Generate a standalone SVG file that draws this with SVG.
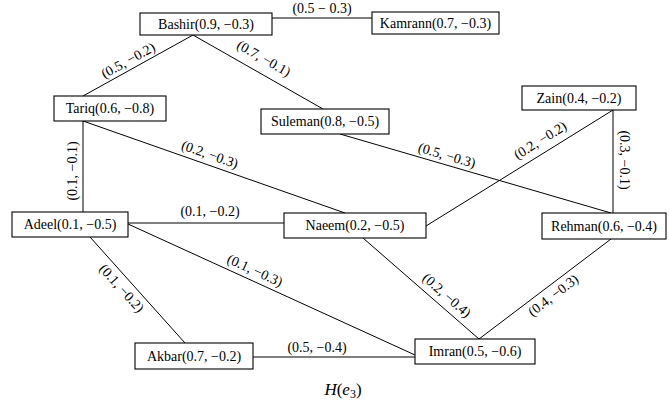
<svg xmlns="http://www.w3.org/2000/svg" width="669" height="402" viewBox="0 0 669 402">
<style>
.box{fill:#fff;stroke:#000;stroke-width:1.1}
.nt{font-family:"Liberation Serif","DejaVu Serif",serif;font-size:14px;fill:#000;text-anchor:middle}
.e{stroke:#000;stroke-width:1;fill:none}
.lb{font-family:"Liberation Serif","DejaVu Serif",serif;font-size:14px;fill:#000;text-anchor:middle}
.cap{font-family:"Liberation Serif","DejaVu Serif",serif;font-size:17px;fill:#000;text-anchor:middle}
</style>
<rect width="669" height="402" fill="#fff"/>
<g id="connectors">
<line class="e" x1="272" y1="18" x2="372" y2="18"/>
<line class="e" x1="193" y1="35" x2="83" y2="96"/>
<line class="e" x1="193" y1="35" x2="323" y2="109"/>
<line class="e" x1="83" y1="121" x2="83" y2="212"/>
<line class="e" x1="83" y1="121" x2="345" y2="213"/>
<line class="e" x1="340" y1="134" x2="611" y2="213"/>
<line class="e" x1="613" y1="110" x2="426" y2="226"/>
<line class="e" x1="613" y1="110" x2="613" y2="213"/>
<line class="e" x1="128" y1="223" x2="284" y2="223"/>
<line class="e" x1="128" y1="224" x2="415" y2="355"/>
<line class="e" x1="90" y1="237" x2="185" y2="343"/>
<line class="e" x1="363" y1="238" x2="479" y2="339"/>
<line class="e" x1="611" y1="239" x2="479" y2="339"/>
<line class="e" x1="253" y1="357" x2="415" y2="357"/>
<g id="edge-labels">
<text class="lb" x="322" y="13">(0.5 − 0.3)</text>
<text class="lb" transform="translate(128,60) rotate(-29)" y="5">(0.5, −0.2)</text>
<text class="lb" transform="translate(264,58) rotate(29.6)" y="5">(0.7, −0.1)</text>
<text class="lb" transform="translate(72,171) rotate(-90)" y="5">(0.1, −0.1)</text>
<text class="lb" transform="translate(210,154) rotate(19.4)" y="5">(0.2, −0.3)</text>
<text class="lb" transform="translate(447,155) rotate(16.3)" y="5">(0.5, −0.3)</text>
<text class="lb" transform="translate(540,140) rotate(-31.8)" y="5">(0.2, −0.2)</text>
<text class="lb" transform="translate(625,160) rotate(90)" y="5">(0.3, −0.1)</text>
<text class="lb" x="210" y="216">(0.1, −0.2)</text>
<text class="lb" transform="translate(255,270) rotate(24.5)" y="5">(0.1, −0.3)</text>
<text class="lb" transform="translate(122,288) rotate(48)" y="5">(0.1, −0.2)</text>
<text class="lb" transform="translate(447,295) rotate(41.3)" y="5">(0.2, −0.4)</text>
<text class="lb" transform="translate(553,295) rotate(-37.4)" y="5">(0.4, −0.3)</text>
<text class="lb" x="317" y="352">(0.5, −0.4)</text>
</g>
</g>
<g id="node-bashir"><rect class="box" x="140" y="13" width="132" height="22"/><text class="nt" x="206" y="29">Bashir(0.9, −0.3)</text></g>
<g id="node-kamrann"><rect class="box" x="372" y="12" width="127" height="22"/><text class="nt" x="435.5" y="28">Kamrann(0.7, −0.3)</text></g>
<g id="node-tariq"><rect class="box" x="54" y="96" width="112" height="25"/><text class="nt" x="110" y="113">Tariq(0.6, −0.8)</text></g>
<g id="node-suleman"><rect class="box" x="261" y="109" width="128" height="25"/><text class="nt" x="325" y="126">Suleman(0.8, −0.5)</text></g>
<g id="node-zain"><rect class="box" x="522" y="86" width="114" height="24"/><text class="nt" x="579" y="103">Zain(0.4, −0.2)</text></g>
<g id="node-adeel"><rect class="box" x="12" y="212" width="116" height="25"/><text class="nt" x="70" y="229">Adeel(0.1, −0.5)</text></g>
<g id="node-naeem"><rect class="box" x="284" y="213" width="142" height="25"/><text class="nt" x="355" y="230">Naeem(0.2, −0.5)</text></g>
<g id="node-rehman"><rect class="box" x="542" y="213" width="124" height="26"/><text class="nt" x="604" y="231">Rehman(0.6, −0.4)</text></g>
<g id="node-akbar"><rect class="box" x="135" y="343" width="118" height="26"/><text class="nt" x="194" y="361">Akbar(0.7, −0.2)</text></g>
<g id="node-imran"><rect class="box" x="415" y="339" width="120" height="25"/><text class="nt" x="475" y="356">Imran(0.5, −0.6)</text></g>
<text class="cap" x="343" y="395"><tspan font-style="italic">H</tspan>(<tspan font-style="italic">e</tspan><tspan font-size="12" dy="3">3</tspan><tspan dy="-3">)</tspan></text>
</svg>
